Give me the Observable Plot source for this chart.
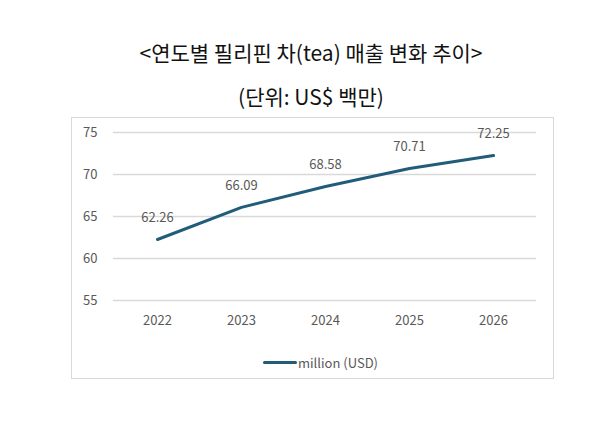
<!DOCTYPE html>
<html>
<head>
<meta charset="utf-8">
<script src="https://cdn.jsdelivr.net/npm/d3@7"></script>
<script src="https://cdn.jsdelivr.net/npm/@observablehq/plot@0.6"></script>
<style>
  html, body { margin: 0; padding: 0; background: #fff; }
  body { width: 611px; height: 421px; position: relative; overflow: hidden; font-family: "Noto Sans CJK KR", "Noto Sans", sans-serif; }
  .title { position: absolute; left: 0; width: 622px; text-align: center; font-size: 21px; color: #111; line-height: 1; }
  #box { position: absolute; left: 71px; top: 117px; width: 483px; height: 262px; box-sizing: border-box; border: 1px solid #d9d9d9; background: #fff; }
  #chart { position: absolute; left: 0; top: 0; }
  #legend { position: absolute; left: 191px; top: 236px; height: 16px; display: flex; align-items: center; font-size: 13px; color: #595959; }
  #legend .sw { width: 34px; height: 3px; background: #215d7a; border-radius: 2px; margin-right: 1px; }
</style>
</head>
<body>
<div class="title" style="top:42px">&lt;연도별 필리핀 차(tea) 매출 변화 추이&gt;</div>
<div class="title" style="top:86px">(단위: US$ 백만)</div>
<div id="box">
  <div id="chart"></div>
  <div id="legend"><span class="sw"></span><span>million (USD)</span></div>
</div>
<script>
const years = ["2022", "2023", "2024", "2025", "2026"];
const sales = [62.26, 66.09, 68.58, 70.71, 72.25];
const yTicks = [55, 60, 65, 70, 75];
const seriesName = "million (USD)";

const data = years.map((y, i) => ({year: y, value: sales[i]}));
const lineColor = "#215d7a";
const textColor = "#595959";

const chart = Plot.plot({
  width: 481,
  height: 215,
  marginLeft: 41,
  marginRight: 17,
  marginTop: 14,
  marginBottom: 33,
  style: {fontFamily: "'Noto Sans CJK KR', 'Noto Sans', sans-serif", fontSize: "13px", color: textColor, background: "transparent"},
  x: {type: "point", domain: years, padding: 0.5, label: null},
  y: {domain: [55, 75], ticks: yTicks, label: null},
  marks: [
    Plot.ruleY(yTicks, {stroke: "#d9d9d9", strokeWidth: 1.5}),
    Plot.axisY({ticks: yTicks, tickSize: 0, tickPadding: 16, label: null, fill: textColor}),
    Plot.axisX({tickSize: 0, tickPadding: 15, label: null, fill: textColor}),
    Plot.line(data, {x: "year", y: "value", stroke: lineColor, strokeWidth: 3, strokeLinejoin: "round", strokeLinecap: "round"}),
    Plot.text(data, {x: "year", y: "value", text: d => d.value.toFixed(2), dy: -22, fill: textColor, fontSize: 13})
  ]
});
document.getElementById("chart").appendChild(chart);
</script>
</body>
</html>
